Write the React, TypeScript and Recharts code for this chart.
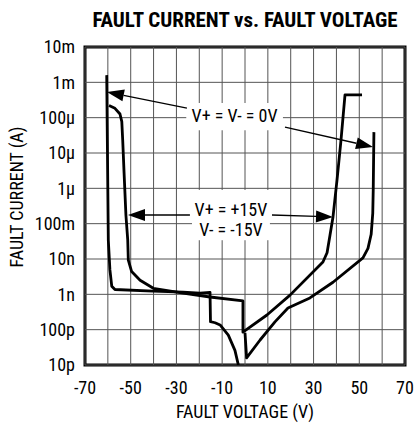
import React from "react";
import {
  LineChart,
  Line,
  XAxis,
  YAxis,
  ReferenceArea,
  ReferenceLine,
} from "recharts";

const FONT = "'Liberation Sans Narrow', 'Arial Narrow', 'Roboto Condensed', sans-serif";

const xTicks = [-70, -60, -50, -40, -30, -20, -10, 0, 10, 20, 30, 40, 50, 60, 70];
const xLabeled = [-70, -50, -30, -10, 10, 30, 50, 70];
const yTicks = [1e-11, 1e-10, 1e-9, 1e-8, 1e-7, 1e-6, 1e-5, 1e-4, 1e-3, 1e-2];
const yLabels = ["10p", "100p", "1n", "10n", "100m", "1µ", "10µ", "100µ", "1m", "10m"];

// V+ = V- = 0V, negative fault voltages
const zeroLeft: [number, number][] = [
  [-60.5, 1.6e-3], [-59.8, 3.4e-8], [-59.1, 4.9e-9], [-58.3, 1.7e-9],
  [-56.9, 1.37e-9], [-40.25, 1.24e-9], [-27.1, 1.16e-9], [-19.7, 1.08e-9],
  [-15.3, 1.13e-9], [-15.1, 1.68e-10], [-13.1, 1.57e-10], [-10.9, 1.36e-10],
  [-7.3, 7.0e-11], [-4.4, 2.6e-11], [-2.9, 1e-11],
];
// V+ = V- = 0V, positive fault voltages
const zeroRight: [number, number][] = [
  [0.0, 8.1e-11], [0.7, 1.6e-11], [6.6, 5.1e-11], [13.1, 1.66e-10],
  [18.8, 4.1e-10], [28.4, 7.9e-10], [38.5, 2.2e-9], [51.6, 1.07e-8],
  [53.8, 2.0e-8], [55.2, 5.0e-8], [55.9, 2.0e-7], [56.1, 8.9e-7], [56.4, 3.9e-5],
];
// V+ = +15V, V- = -15V
const fifteen: [number, number][] = [
  [-59.5, 2.2e-4], [-56.9, 1.84e-4], [-54.7, 1.27e-4], [-53.9, 7.7e-5],
  [-53.5, 2.3e-5], [-52.9, 2.7e-6], [-52.1, 1.76e-7], [-51.3, 3.4e-8],
  [-51.05, 9.3e-9], [-49.6, 4.4e-9], [-45.9, 2.5e-9], [-40.1, 1.48e-9],
  [-27.1, 1.09e-9], [-15.3, 8.4e-10], [-0.9, 6.5e-10], [-0.9, 8.5e-11],
  [9.6, 2.6e-10], [19.7, 9.5e-10], [34.1, 8.2e-9], [35.9, 1.5e-8],
  [37.2, 4.8e-8], [38.5, 1.55e-7], [40.25, 1.7e-6], [42.0, 2.3e-5],
  [43.75, 4.4e-4], [51.2, 4.4e-4],
];

const toRows = (pts: [number, number][]) => pts.map(([v, i]) => ({ v, i }));

const txt = { fontFamily: FONT, fontSize: 18, fill: "#000" };

const Arrow = (p: any) => {
  const x1 = Number(p.x1), y1 = Number(p.y1), x2 = Number(p.x2), y2 = Number(p.y2);
  const dx = x2 - x1, dy = y2 - y1;
  const len = Math.hypot(dx, dy) || 1;
  const ux = dx / len, uy = dy / len;
  const hl = 17, hw = 6;
  const bx = x2 - ux * hl, by = y2 - uy * hl;
  return (
    <g>
      <line x1={x1} y1={y1} x2={bx} y2={by} stroke="#000" strokeWidth={1.3} />
      <polygon
        points={`${x2},${y2} ${bx - uy * hw},${by + ux * hw} ${bx + uy * hw},${by - ux * hw}`}
        fill="#000"
      />
    </g>
  );
};

// white label box, drawn from a diagonal segment so it sits above the grid
const makeBox = (lines: string[], firstBaseline: number, lineGap: number) => (p: any) => {
  const x1 = Number(p.x1), y1 = Number(p.y1), x2 = Number(p.x2), y2 = Number(p.y2);
  const x = Math.min(x1, x2), y = Math.min(y1, y2);
  const w = Math.abs(x2 - x1), h = Math.abs(y2 - y1);
  return (
    <g>
      <rect x={x} y={y} width={w} height={h} fill="#fff" />
      <text textAnchor="middle" style={txt}>
        {lines.map((l, k) => (
          <tspan key={k} x={x + w / 2} y={y + firstBaseline + k * lineGap}>
            {l}
          </tspan>
        ))}
      </text>
    </g>
  );
};

const ZeroBox = makeBox(["V+ = V- = 0V"], 18.5, 0);
const FifteenBox = makeBox(["V+ = +15V", "V- = -15V"], 26, 20);

export default function App() {
  return (
    <div style={{ position: "absolute", left: 0, top: 0 }}>
      <LineChart width={415} height={423} margin={{ top: 47, right: 10, bottom: 28, left: 0 }}>
        <XAxis
          type="number"
          dataKey="v"
          domain={[-70, 70]}
          ticks={xTicks}
          allowDataOverflow
          axisLine={false}
          tickLine={false}
          tickMargin={10}
          height={30}
          tick={{ ...txt }}
          tickFormatter={(v: number) => (xLabeled.includes(v) ? String(v) : "")}
          label={() => (
            <text x={245} y={418} textAnchor="middle" style={txt}>
              FAULT VOLTAGE (V)
            </text>
          )}
        />
        <YAxis
          scale="log"
          domain={[1e-11, 1e-2]}
          ticks={yTicks}
          allowDataOverflow
          axisLine={false}
          tickLine={false}
          tickMargin={4}
          width={85}
          tick={{ ...txt }}
          tickFormatter={(v: number) => yLabels[Math.round(Math.log10(v)) + 11]}
          label={() => (
            <text x={23} y={197} textAnchor="middle" transform="rotate(-90, 23, 197)" style={txt}>
              FAULT CURRENT (A)
            </text>
          )}
        />
        {xTicks.map((t) => (
          <ReferenceLine key={`gx${t}`} x={t} stroke="#555" strokeWidth={1} />
        ))}
        {yTicks.map((t) => (
          <ReferenceLine key={`gy${t}`} y={t} stroke="#555" strokeWidth={1} />
        ))}
        <ReferenceLine segment={[{ x: -25.7, y: 2.6e-4 }, { x: 16.6, y: 4.4e-5 }]} shape={ZeroBox} />
        <ReferenceLine segment={[{ x: -23.2, y: 9.0e-7 }, { x: 10.9, y: 3.4e-8 }]} shape={FifteenBox} />
        <Line data={toRows(zeroLeft)} dataKey="i" type="linear" stroke="#000" strokeWidth={2.8} dot={false} isAnimationActive={false} strokeLinejoin="round" />
        <Line data={toRows(zeroRight)} dataKey="i" type="linear" stroke="#000" strokeWidth={2.8} dot={false} isAnimationActive={false} strokeLinejoin="round" />
        <Line data={toRows(fifteen)} dataKey="i" type="linear" stroke="#000" strokeWidth={2.8} dot={false} isAnimationActive={false} strokeLinejoin="round" />
        <ReferenceLine segment={[{ x: -25.4, y: 1.87e-4 }, { x: -60.4, y: 5.3e-4 }]} shape={Arrow} />
        <ReferenceLine segment={[{ x: 17.5, y: 5.4e-5 }, { x: 56.0, y: 1.48e-5 }]} shape={Arrow} />
        <ReferenceLine segment={[{ x: -24.1, y: 1.76e-7 }, { x: -51.2, y: 1.76e-7 }]} shape={Arrow} />
        <ReferenceLine segment={[{ x: 11.8, y: 1.76e-7 }, { x: 38.5, y: 1.55e-7 }]} shape={Arrow} />
        <ReferenceArea
          x1={-70}
          x2={70}
          y1={1e-11}
          y2={1e-2}
          fill="none"
          stroke="#000"
          strokeWidth={3}
          label={() => (
            <text x={245} y={26.5} textAnchor="middle" style={{ ...txt, fontSize: 21, fontWeight: "bold" }}>
              FAULT CURRENT vs. FAULT VOLTAGE
            </text>
          )}
        />
      </LineChart>
    </div>
  );
}
